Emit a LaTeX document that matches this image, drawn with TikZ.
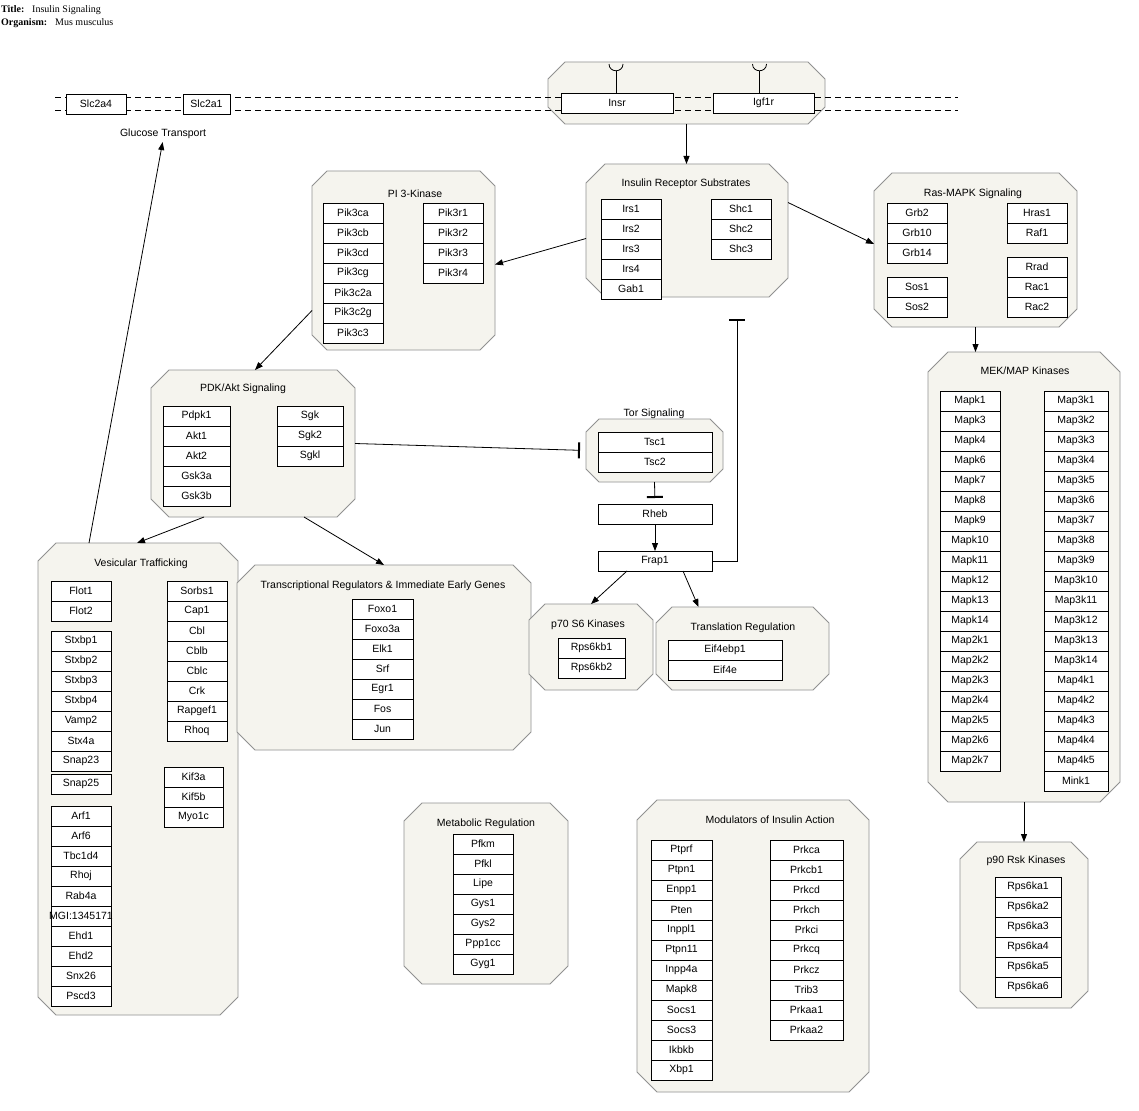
\documentclass[tikz,border=0pt]{standalone}
\usepackage{fontspec}
\setmainfont{Liberation Sans}
\newfontfamily\hdrfont{Liberation Serif}
\usetikzlibrary{arrows.meta,calc}

\definecolor{grpfill}{RGB}{245,244,238}
\definecolor{grpedge}{RGB}{145,145,145}

% group frame: name, x1, y1, x2, y2, corner cut
\newcommand\grp[6]{%
  \node[grpnode, minimum width={#4-#2}, minimum height={#5-#3}] (#1) at ({(#2+#4)/2},{(#3+#5)/2}) {};
  \draw[grpline] ($(#1.north west)+(#6,0)$) -- ($(#1.north east)+(-#6,0)$)
    -- ($(#1.north east)+(0,#6)$) -- ($(#1.south east)+(0,-#6)$)
    -- ($(#1.south east)+(-#6,0)$) -- ($(#1.south west)+(#6,0)$)
    -- ($(#1.south west)+(0,-#6)$) -- ($(#1.north west)+(0,#6)$) -- cycle;
}
% column of gene boxes (fixed width, label may overhang): prefix, x1, x2, top, list
\newcommand\genes[5]{%
  \foreach \g [count=\i] in {#5} {
    \node[gene, minimum width={#3-#2}, anchor=north west] (#1\i) at (#2,{#4+(\i-1)*20}) {\makebox[0pt]{\g}};
  }%
}

\begin{document}
\begin{tikzpicture}[x=1pt,y=-1pt,
  font=\fontsize{10.5}{12}\selectfont,
  grpnode/.style={draw=none, fill=none, inner sep=0pt, outer sep=0pt},
  grpline/.style={draw=grpedge, fill=grpfill, line width=0.8pt},
  gene/.style={draw=black, fill=white, line width=0.8pt, inner sep=0pt, outer sep=0pt, minimum height=20pt},
  grptitle/.style={inner sep=1pt},
  hdr/.style={anchor=base west, inner sep=0pt, font=\hdrfont\fontsize{10}{12}\selectfont},
  act/.style={draw=black, line width=0.8pt, -{Triangle[length=8pt,width=6pt]}},
  inh/.style={draw=black, line width=0.8pt, -{Bar[width=16pt,line width=2pt]}},
  membrane/.style={draw=black, line width=0.8pt, dash pattern=on 6pt off 4pt}
]
\useasboundingbox[fill=white] (0,0) rectangle (1139,1110);

% header
\node[hdr, font=\hdrfont\fontsize{10}{12}\selectfont\bfseries] (ttl) at (1,13) {Title:};
\node[hdr] (ttlv) at (32,13) {Insulin Signaling};
\node[hdr, font=\hdrfont\fontsize{10}{12}\selectfont\bfseries] (org) at (1,26) {Organism:};
\node[hdr] (orgv) at (55,26) {Mus musculus};

% group frames
\grp{recep}{548}{62}{825}{124}{17}
\grp{irs}{586}{164}{788}{297}{19}
\grp{pik}{312}{171}{495}{350}{15}
\grp{ras}{874}{173}{1077}{327}{18}
\grp{mek}{928}{352}{1120}{802}{20}
\grp{p90}{960}{842}{1088}{1008}{17}
\grp{pdk}{151}{370}{355}{517}{18}
\grp{tor}{586}{419}{723}{482}{13}
\grp{ves}{38}{543}{238}{1015}{18}
\grp{trans}{237}{565}{531}{750}{18}
\grp{p70}{529}{604}{653}{690}{16}
\grp{transl}{656}{607}{829}{690}{16}
\grp{meta}{404}{803}{568}{984}{18}
\grp{mod}{637}{800}{869}{1092}{20}

% plasma membrane
\coordinate (mla) at (55,97);
\coordinate (mlb) at (958,97);
\coordinate (mlc) at (55,110);
\coordinate (mld) at (958,110);
\draw[membrane] (mla) -- (mlb);
\draw[membrane] (mlc) -- (mld);

% group titles
\node[grptitle] (glc) at (163,134) {Glucose Transport};
\node[grptitle] (irsT) at (686,184) {Insulin Receptor Substrates};
\node[grptitle] (pikT) at (415,194) {PI 3-Kinase};
\node[grptitle] (rasT) at (973,194) {Ras-MAPK Signaling};
\node[grptitle] (mekT) at (1025,371) {MEK/MAP Kinases};
\node[grptitle] (p90T) at (1026,861) {p90 Rsk Kinases};
\node[grptitle] (pdkT) at (243,389) {PDK/Akt Signaling};
\node[grptitle] (torT) at (654,414) {Tor Signaling};
\node[grptitle] (vesT) at (141,564) {Vesicular Trafficking};
\node[grptitle] (transT) at (383,586) {Transcriptional Regulators \& Immediate Early Genes};
\node[grptitle] (p70T) at (588,625) {p70 S6 Kinases};
\node[grptitle] (translT) at (743,628) {Translation Regulation};
\node[grptitle] (metaT) at (486,824) {Metabolic Regulation};
\node[grptitle] (modT) at (770,820) {Modulators of Insulin Action};

% membrane proteins
\node[gene, minimum width=60, anchor=north west] (slca) at (66,94) {Slc2a4};
\node[gene, minimum width=47, anchor=north west] (slcb) at (183,94) {Slc2a1};
\node[gene, minimum width=112, anchor=north west] (insr) at (561,93) {Insr};
\node[gene, minimum width=101, anchor=north west] (igfr) at (713,93) {Igf1r};
% receptor ligand cups
\draw[line width=0.8pt] ($(insr.north)+(-1,0)$) -- ++(0,-22);
\draw[line width=0.8pt] ($(insr.north)+(-8,-29)$) .. controls ($(insr.north)+(-8,-20)$) and ($(insr.north)+(6,-20)$) .. ($(insr.north)+(6,-29)$);
\draw[line width=0.8pt] ($(igfr.north)+(-4,0)$) -- ++(0,-22);
\draw[line width=0.8pt] ($(igfr.north)+(-11,-29)$) .. controls ($(igfr.north)+(-11,-20)$) and ($(igfr.north)+(3,-20)$) .. ($(igfr.north)+(3,-29)$);

% gene columns
\genes{irsA}{601}{661}{199}{Irs1,Irs2,Irs3,Irs4,Gab1}
\genes{irsB}{711}{771}{199}{Shc1,Shc2,Shc3}
\genes{pikA}{323}{383}{203}{Pik3ca,Pik3cb,Pik3cd,Pik3cg,Pik3c2a,Pik3c2g,Pik3c3}
\genes{pikB}{423}{483}{203}{Pik3r1,Pik3r2,Pik3r3,Pik3r4}
\genes{rasA}{887}{947}{203}{Grb2,Grb10,Grb14}
\genes{rasB}{887}{947}{277}{Sos1,Sos2}
\genes{rasC}{1007}{1067}{203}{Hras1,Raf1}
\genes{rasD}{1007}{1067}{257}{Rrad,Rac1,Rac2}
\genes{mekA}{940}{1000}{391}{Mapk1,Mapk3,Mapk4,Mapk6,Mapk7,Mapk8,Mapk9,Mapk10,Mapk11,Mapk12,Mapk13,Mapk14,Map2k1,Map2k2,Map2k3,Map2k4,Map2k5,Map2k6,Map2k7}
\genes{mekB}{1044}{1108}{391}{Map3k1,Map3k2,Map3k3,Map3k4,Map3k5,Map3k6,Map3k7,Map3k8,Map3k9,Map3k10,Map3k11,Map3k12,Map3k13,Map3k14,Map4k1,Map4k2,Map4k3,Map4k4,Map4k5,Mink1}
\genes{p90A}{995}{1061}{877}{Rps6ka1,Rps6ka2,Rps6ka3,Rps6ka4,Rps6ka5,Rps6ka6}
\genes{pdkA}{163}{230}{406}{Pdpk1,Akt1,Akt2,Gsk3a,Gsk3b}
\genes{pdkB}{277}{343}{406}{Sgk,Sgk2,Sgkl}
\genes{torA}{598}{712}{432}{Tsc1,Tsc2}
\node[gene, minimum width=114, anchor=north west] (rheb) at (598,504) {Rheb};
\node[gene, minimum width=114, anchor=north west] (frap) at (598,551) {Frap1};
\genes{vesA}{51}{111}{581}{Flot1,Flot2}
\genes{vesB}{51}{111}{631}{Stxbp1,Stxbp2,Stxbp3,Stxbp4,Vamp2,Stx4a,Snap23}
\genes{vesC}{51}{111}{774}{Snap25}
\genes{vesD}{51}{111}{806}{Arf1,Arf6,Tbc1d4,Rhoj,Rab4a,MGI:1345171,Ehd1,Ehd2,Snx26,Pscd3}
\genes{vesE}{167}{227}{581}{Sorbs1,Cap1,Cbl,Cblb,Cblc,Crk,Rapgef1,Rhoq}
\genes{vesF}{164}{223}{767}{Kif3a,Kif5b,Myo1c}
\genes{transA}{352}{413}{599}{Foxo1,Foxo3a,Elk1,Srf,Egr1,Fos,Jun}
\genes{p70A}{558}{625}{638}{Rps6kb1,Rps6kb2}
\genes{translA}{668}{782}{640}{Eif4ebp1,Eif4e}
\genes{metaA}{453}{513}{834}{Pfkm,Pfkl,Lipe,Gys1,Gys2,Ppp1cc,Gyg1}
\genes{modA}{651}{712}{840}{Ptprf,Ptpn1,Enpp1,Pten,Inppl1,Ptpn11,Inpp4a,Mapk8,Socs1,Socs3,Ikbkb,Xbp1}
\genes{modB}{770}{843}{840}{Prkca,Prkcb1,Prkcd,Prkch,Prkci,Prkcq,Prkcz,Trib3,Prkaa1,Prkaa2}

% signalling connectors
\draw[act] (recep.south) -- (recep.south |- irs.north);
\draw[act] ($(irs.west)+(0,8)$) -- ($(pik.east)+(0,4)$);
\draw[act] ($(irs.east)+(0,-28)$) -- ($(ras.west)+(0,-6)$);
\draw[act] ($(pik.west)+(0,50)$) -- ($(pdk.north)+(2,0)$);
\draw[act] (ras.south) -- (ras.south |- mek.north);
\draw[act] (mek.south) -- (mek.south |- p90.north);
\draw[act] ($(pdk.south)+(-49,0)$) -- ($(ves.north)+(-1,0)$);
\draw[act] ($(pdk.south)+(51,0)$) -- (trans.north);
\draw[inh, shorten >=6pt] (pdk.east) -- (tor.west);
\draw[inh, shorten >=6pt] (tor.south) -- (rheb.north);
\draw[act] (rheb.south) -- (frap.north);
\draw[inh, shorten >=22pt] (frap.east) -| ($(irs.south)+(50,0)$);
\draw[act] ($(frap.south)+(-28,0)$) -- (p70.north);
\draw[act] ($(frap.south)+(28,0)$) -- ($(transl.north)+(-44,0)$);
\draw[act, shorten >=2pt] ($(ves.north)+(-49,0)$) -- (glc.south);
\end{tikzpicture}
\end{document}
